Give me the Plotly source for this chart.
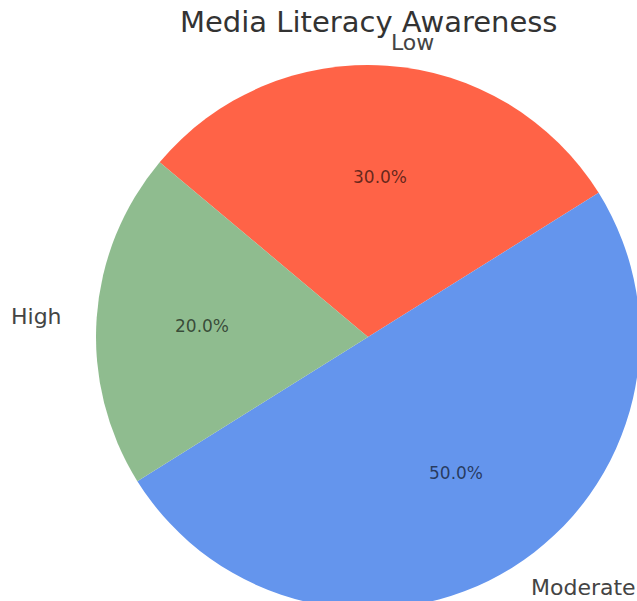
import math
import plotly.graph_objects as go

# Survey shares
labels = ["Low", "Moderate", "High"]
values = [30, 50, 20]
colors = ["#FF6347", "#6495ED", "#8FBC8F"]
title_text = "Media Literacy Awareness"

# Canvas and pie geometry (pixels)
W, H = 660, 630
CX, CY, R = 368, 337, 272
# text placement radii (slightly wider than tall, like the original axes)
RX_TXT, RY_TXT = 277, 268
START_DEG = 140          # first wedge starts here (math angle), drawn clockwise
LABEL_DIST = 1.1
PCT_DIST = 0.6
FONT = "DejaVu Sans"

fig = go.Figure()
fig.add_trace(go.Pie(
    labels=labels,
    values=values,
    sort=False,
    direction="clockwise",
    rotation=90 - START_DEG,
    marker=dict(colors=colors, line=dict(width=0)),
    textinfo="none",
    showlegend=False,
    domain=dict(
        x=[(CX - R) / W, (CX + R) / W],
        y=[1 - (CY + R) / H, 1 - (CY - R) / H],
    ),
))

total = sum(values)
cum = 0.0
annotations = []
for lab, v in zip(labels, values):
    mid = math.radians(START_DEG - 360.0 * (cum + v / 2.0) / total)
    cum += v
    ux, uy = math.cos(mid), math.sin(mid)
    # category label outside the wedge
    lx = CX + LABEL_DIST * RX_TXT * ux
    ly = CY - LABEL_DIST * RY_TXT * uy
    annotations.append(dict(
        x=lx / W, y=1 - ly / H, xref="paper", yref="paper",
        text=lab, showarrow=False,
        xanchor="left" if ux > 0 else "right", yanchor="middle",
        font=dict(family=FONT, size=22, color="#444444"),
    ))
    # percentage inside the wedge
    px = CX + PCT_DIST * RX_TXT * ux
    py = CY - PCT_DIST * RY_TXT * uy
    annotations.append(dict(
        x=px / W, y=1 - py / H, xref="paper", yref="paper",
        text=f"{100.0 * v / total:.1f}%", showarrow=False,
        xanchor="center", yanchor="middle",
        font=dict(family=FONT, size=17, color="rgba(0,0,0,0.62)"),
    ))

annotations.append(dict(
    x=CX / W, y=1 - 22 / H, xref="paper", yref="paper",
    text=title_text, showarrow=False,
    xanchor="center", yanchor="middle",
    font=dict(family=FONT, size=29, color="#333333"),
))

fig.update_layout(
    width=W, height=H,
    margin=dict(l=0, r=0, t=0, b=0),
    paper_bgcolor="white",
    plot_bgcolor="white",
    annotations=annotations,
)

fig.write_html(
    "out.html",
    post_script=(
        "document.documentElement.style.overflow='hidden';"
        "document.body.style.overflow='hidden';"
        "document.body.style.margin='0';"
    ),
)
